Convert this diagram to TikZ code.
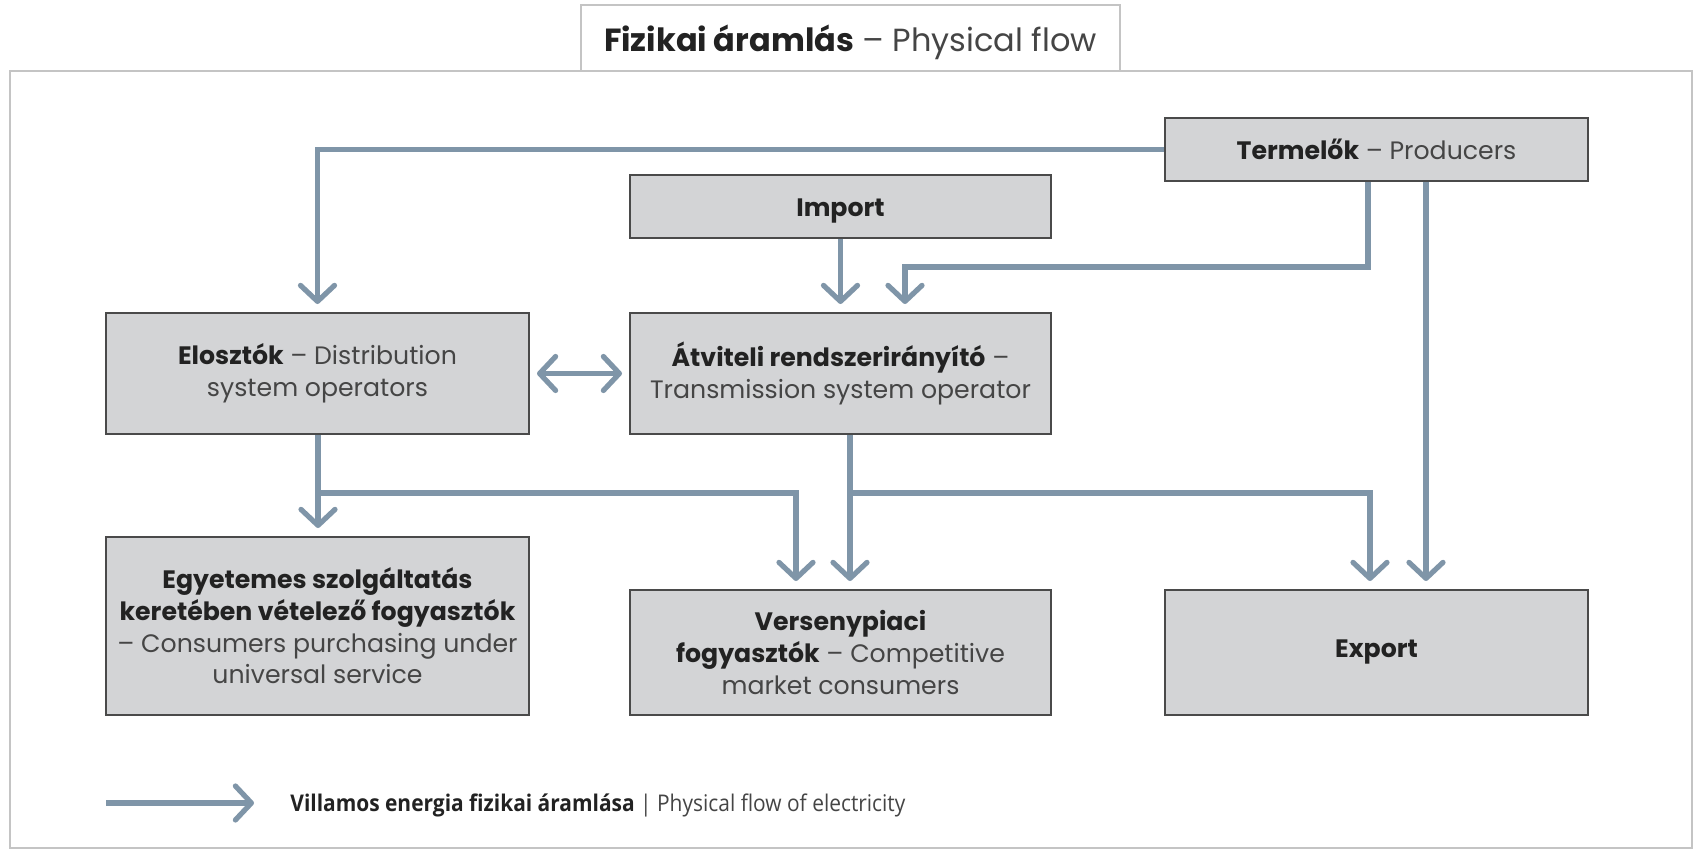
\documentclass[tikz,border=0pt]{standalone}
\usepackage{fontspec}
\setmainfont{Poppins}
\newfontfamily\legendfont{Open Sans}[FakeStretch=0.91]
\usetikzlibrary{arrows.meta}
\definecolor{flowblue}{HTML}{7F95A8}
\definecolor{boxfill}{HTML}{D3D4D6}
\definecolor{boxline}{HTML}{4A4A4A}
\definecolor{framegray}{HTML}{C4C4C4}
\definecolor{darktext}{HTML}{222222}
\definecolor{lighttext}{HTML}{454545}
\tikzset{
  flowbox/.style={draw=boxline, line width=1pt, fill=boxfill, align=center,
    inner sep=2pt, font=\fontsize{12.6}{15.8}\selectfont, text=lighttext},
  flow/.style={draw=flowblue, line width=2.6pt,
    -{Straight Barb[length=8pt, width=17pt, line cap=round, line join=round]},
    shorten >=4pt},
  bothflow/.style={draw=flowblue, line width=2.6pt,
    {Straight Barb[length=8pt, width=17pt, line cap=round, line join=round]}-{Straight Barb[length=8pt, width=17pt, line cap=round, line join=round]},
    shorten >=3.5pt, shorten <=3.5pt},
}
\newcommand{\hb}[1]{\textcolor{darktext}{\textbf{#1}}}
\begin{document}
\begin{tikzpicture}[x=0.5pt, y=-0.5pt]
  \useasboundingbox (0,0) rectangle (1694,850);
  % outer frame and title tab
  \draw[framegray, line width=0.8pt, fill=white] (10,71) rectangle (1692,848);
  \node[draw=framegray, line width=0.8pt, fill=white, minimum width=269.5pt,
    minimum height=33pt, inner ysep=0pt, text height=15pt, text depth=1.3pt,
    font=\fontsize{16}{18}\selectfont, text=lighttext]
    (title) at (850.5,38) {\hb{Fizikai áramlás} – Physical flow};

  % boxes
  \node[flowbox, minimum width=211.5pt, minimum height=31.5pt] (prod) at (1376.5,149.5)
    {\hb{Termelők} – Producers};
  \node[flowbox, minimum width=210.5pt, minimum height=31.5pt,
    text height=9.8pt, text depth=0pt] (imp) at (840.5,206.5)
    {\hb{Import}};
  \node[flowbox, minimum width=211.5pt, minimum height=60.5pt] (dso) at (317.5,373.5)
    {\hb{Elosztók} – Distribution\\system operators};
  \node[flowbox, minimum width=210.5pt, minimum height=60.5pt] (tso) at (840.5,373.5)
    {\hb{Átviteli rendszerirányító} –\\Transmission system operator};
  \node[flowbox, minimum width=211.5pt, minimum height=89pt] (univ) at (317.5,626)
    {\hb{Egyetemes szolgáltatás}\\\hb{keretében vételező fogyasztók}\\– Consumers purchasing under\\universal service};
  \node[flowbox, minimum width=210.5pt, minimum height=62.5pt] (comp) at (840.5,652.5)
    {\hb{Versenypiaci}\\\hb{fogyasztók} – Competitive\\market consumers};
  \node[flowbox, minimum width=211.5pt, minimum height=62.5pt] (exp) at (1376.5,652.5)
    {\hb{Export}};

  % routing points
  \coordinate (pa) at (1368,267);
  \coordinate (pb) at (905,267);
  \coordinate (pc) at (1426,0);
  \coordinate (da) at (318,493);
  \coordinate (db) at (796,493);
  \coordinate (ta) at (850,493);
  \coordinate (tb) at (1370,493);

  % flows
  \draw[flow] (prod.west) -| (dso.north);
  \draw[flow] (prod.south -| pa) -- (pa) -- (pb) -- (pb |- tso.north);
  \draw[flow] (prod.south -| pc) -- (pc |- exp.north);
  \draw[flow] (imp.south) -- (tso.north);
  \draw[bothflow] (dso.east) -- (tso.west);
  \draw[flow] (dso.south -| da) -- (da |- univ.north);
  \draw[flow] (da) -- (db) -- (db |- comp.north);
  \draw[flow] (tso.south -| ta) -- (ta |- comp.north);
  \draw[flow] (ta) -- (tb) -- (tb |- exp.north);

  % legend
  \coordinate (la) at (106,803);
  \coordinate (lb) at (254,803);
  \draw[flow, shorten >=0pt] (la) -- (lb);
  \node[anchor=west, inner sep=0pt, text=lighttext,
    font=\legendfont\fontsize{11.5}{13}\selectfont] (legtext) at (290,805)
    {\textcolor{darktext}{\textbf{Villamos energia fizikai áramlása}} | Physical flow of electricity};
\end{tikzpicture}
\end{document}
